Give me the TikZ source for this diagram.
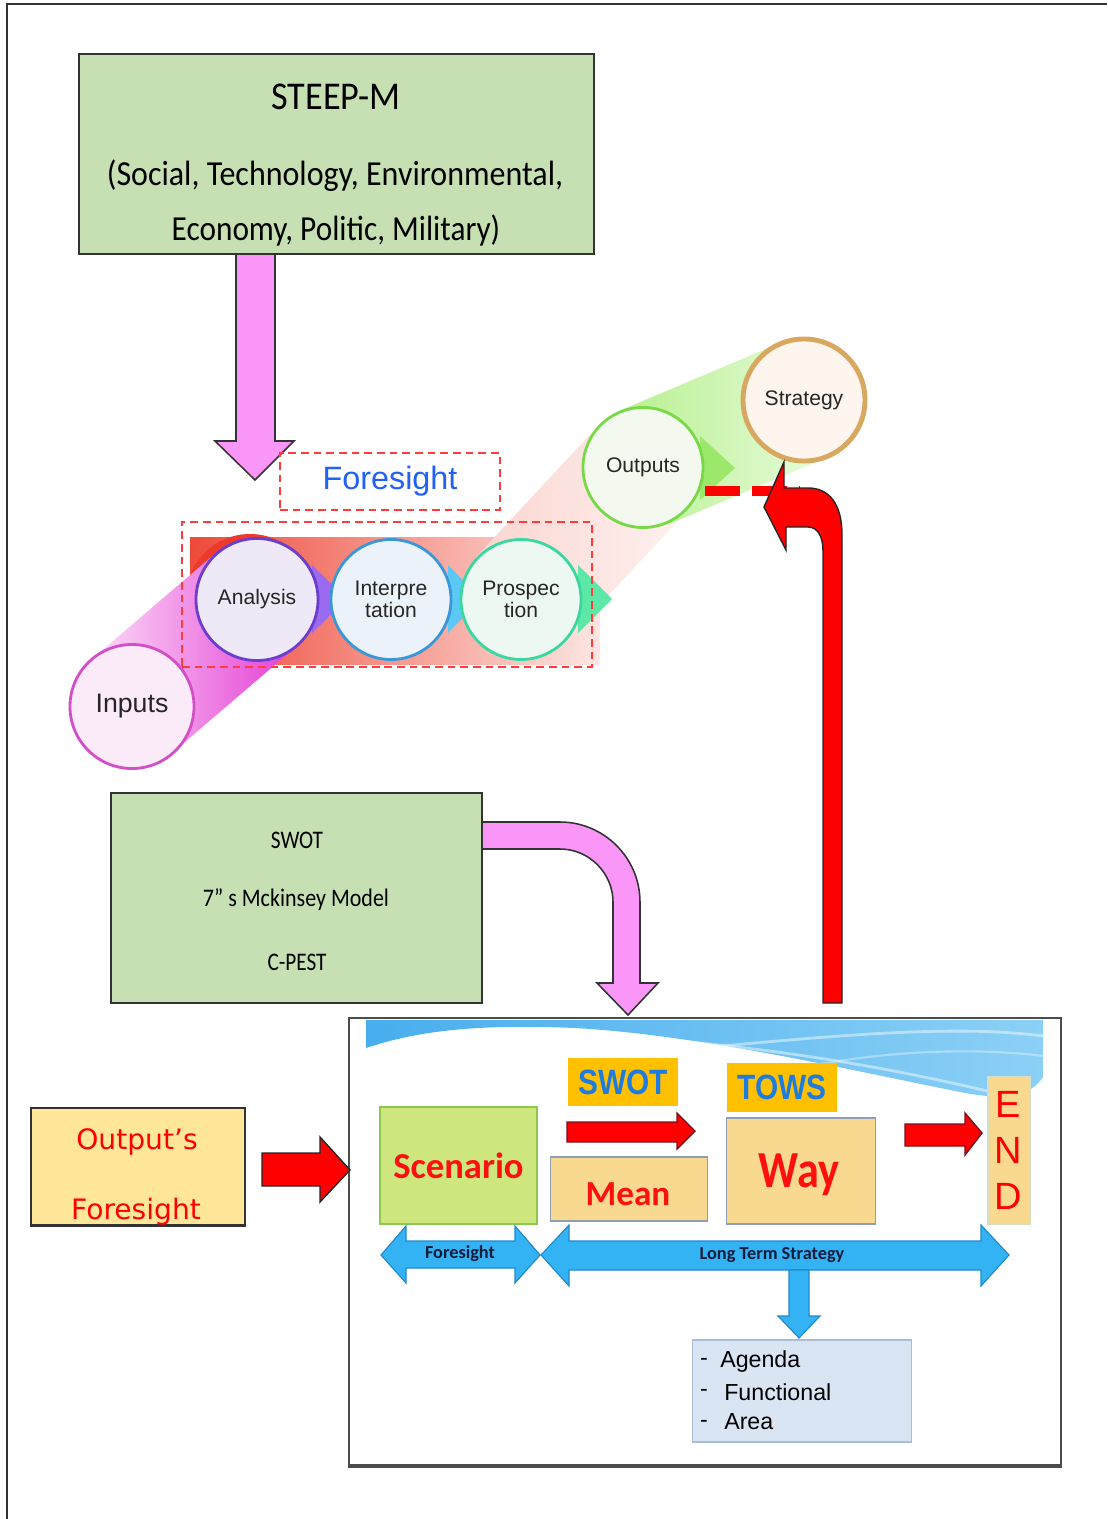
\documentclass[tikz,border=0pt]{standalone}
\usepackage{fontspec}
\usepackage{graphicx}
\setmainfont{Liberation Sans}
\newfontfamily\calfont{Carlito}
\newfontfamily\dvfont{DejaVu Sans}
\newcommand{\myfs}[1]{\fontsize{#1}{#1}\selectfont}
\newcommand{\nar}[2]{\scalebox{#1}[1]{#2}}
\definecolor{frame}{HTML}{333333}
\definecolor{boxgreen}{HTML}{C6E0B4}
\definecolor{pinkarr}{HTML}{FA96F8}
\definecolor{dashred}{HTML}{FF3B3B}
\definecolor{foreblue}{HTML}{2262F0}
\definecolor{outyellow}{HTML}{FFE699}
\definecolor{scengreen}{HTML}{CDE67E}
\definecolor{scenborder}{HTML}{8CC850}
\definecolor{goldlab}{HTML}{FFC000}
\definecolor{labblue}{HTML}{1E7BE0}
\definecolor{tanfill}{HTML}{F9D98F}
\definecolor{tanborder}{HTML}{8E9FB5}
\definecolor{arrblue}{HTML}{33B3F4}
\definecolor{arrblueb}{HTML}{1E88D0}
\definecolor{agendaf}{HTML}{DAE5F4}
\definecolor{agendab}{HTML}{A9BDD9}
\definecolor{txtred}{HTML}{FF1010}
\definecolor{inpB}{HTML}{D24FC8}
\definecolor{inpF}{HTML}{FBEAF8}
\definecolor{anaB}{HTML}{6A3FD0}
\definecolor{anaF}{HTML}{EFE8F7}
\definecolor{intB}{HTML}{3A98D8}
\definecolor{intF}{HTML}{ECF2FA}
\definecolor{proB}{HTML}{3AD8A0}
\definecolor{proF}{HTML}{ECF8F1}
\definecolor{outB}{HTML}{78D848}
\definecolor{outF}{HTML}{F3F9EE}
\definecolor{strB}{HTML}{D8A860}
\definecolor{strF}{HTML}{FDF5EE}
\definecolor{bandRedL}{HTML}{EE4A3A}
\definecolor{bandRedR}{HTML}{FDE6E3}
\definecolor{crescent}{HTML}{EE3A2A}
\definecolor{bandPinkL}{HTML}{FCDCF8}
\definecolor{bandPinkR}{HTML}{E43CD4}
\definecolor{bandFaintL}{HTML}{FBD5D0}
\definecolor{bandFaintR}{HTML}{FEF2F0}
\definecolor{bandGreenL}{HTML}{B8F090}
\definecolor{bandGreenR}{HTML}{E8FCDC}
\definecolor{chevAna}{HTML}{9A6AF0}
\definecolor{chevInt}{HTML}{5CC8F5}
\definecolor{chevPro}{HTML}{5DE8A8}
\definecolor{chevOut}{HTML}{9BE86A}
\definecolor{waveL}{HTML}{48AEEE}
\definecolor{waveR}{HTML}{8CD0F6}
\definecolor{darkred}{HTML}{781020}
\definecolor{endB}{HTML}{D6DEC4}
\definecolor{navytxt}{HTML}{141C3C}
\tikzset{
  gbox/.style={draw=frame, line width=1.6pt, fill=boxgreen, inner sep=0pt},
  pinkblock/.style={fill=pinkarr, draw=frame, line width=1.1pt, line join=miter},
  redblock/.style={fill=red, draw=black!85, line width=1pt, line join=miter},
  blueblock/.style={fill=arrblue, draw=arrblueb, line width=0.8pt, line join=miter},
  dashbox/.style={draw=dashred, line width=1.8pt, dash pattern=on 5.5pt off 3.5pt, inner sep=0pt},
  circ/.style={circle, inner sep=0pt, line width=2pt, text=black!85, font=\fontsize{15}{15.6}\selectfont, align=center},
  txt/.style={inner sep=0pt},
  tanbox/.style={fill=tanfill, draw=tanborder, line width=1pt, inner sep=0pt},
  goldbox/.style={fill=goldlab, inner sep=0pt, text=labblue, font=\bfseries\myfs{25}},
}
\begin{document}
\begin{tikzpicture}[x=0.025cm, y=-0.025cm]
\useasboundingbox (0,0) rectangle (1107,1519);
\fill[white] (0,0) rectangle (1107,1519);
\draw[frame, line width=1.5pt] (7,1519) -- (7,4) -- (1107,4);

% ---------- STEEP-M box
\node[gbox, minimum width=12.875cm, minimum height=5cm] (steep) at (336.5,154) {};
\node[txt, font=\calfont\myfs{28}] (steepT) at (336,97) {\nar{0.92}{STEEP-M}};
\node[txt, font=\calfont\myfs{25}] (steepA) at (335,176) {\nar{0.91}{(Social, Technology, Environmental,}};
\node[txt, font=\calfont\myfs{25}] (steepB) at (336,230) {\nar{0.89}{Economy, Politic, Military)}};

% pink down arrow
\draw[pinkblock] (236,254) -- (236,441) -- (215,441) -- (255,480) -- (294,441) -- (275,441) -- (275,254) -- cycle;

% ---------- ribbons
\shade[left color=bandRedL, right color=bandRedR] (190,537) rectangle (600,664);
\fill[crescent] (250,598) circle (64);
\shade[left color=bandPinkL, right color=bandPinkR] (92,659) -- (217,552) -- (297,646) -- (172,753) -- cycle;
\shade[left color=bandFaintL, right color=bandFaintR] (476,557) -- (598,426) -- (688,510) -- (566,641) -- cycle;
\shade[left color=bandGreenL, right color=bandGreenR] (619,411) -- (780,343) -- (828,457) -- (667,525) -- cycle;
% chevron tips
\fill[chevAna] (312,565) -- (347,599) -- (312,633) -- cycle;
\fill[chevInt] (448,565) -- (481,599) -- (448,633) -- cycle;
\fill[chevPro] (578,565) -- (612,599) -- (578,633) -- cycle;
\fill[chevOut] (700,436) -- (735,468) -- (700,500) -- cycle;

% ---------- circles
\node[circ, minimum size=3.1cm, draw=inpB, fill=inpF, font=\myfs{19}] (inputs) at (132,706.5) {Inputs};
\node[circ, minimum size=3.05cm, draw=anaB, fill=anaF] (analysis) at (257,599.5) {Analysis};
\node[circ, minimum size=3cm, draw=intB, fill=intF] (interp) at (391,599.5) {Interpre\\tation};
\node[circ, minimum size=3cm, draw=proB, fill=proF] (prosp) at (521,599.5) {Prospec\\tion};
\node[circ, minimum size=3cm, draw=outB, fill=outF] (outputs) at (643,467.5) {Outputs};
\node[circ, minimum size=3.05cm, draw=strB, fill=strF, line width=3.5pt] (strategy) at (804,400) {Strategy};

% ---------- dashed boxes
\node[dashbox, minimum width=5.5cm, minimum height=1.425cm, text=foreblue, font=\myfs{23}] (foreBox) at (390,481.5) {Foresight};
\node[dashbox, minimum width=10.25cm, minimum height=3.625cm] (foreArea) at (387,594.5) {};

% ---------- red dashed link and big red arrow
\coordinate (dashS) at (705,491);
\coordinate (dashE) at (800,491);
\draw[red, line width=7pt, dash pattern=on 24.8pt off 8.5pt] (dashS) -- (dashE);
\draw[redblock] (823,1003) -- (823,551) .. controls (823,537) and (818,527) .. (808,527) -- (786,527) -- (786,550) -- (764,507) -- (784,462) -- (784,488) -- (808,488) .. controls (830,488) and (842,505) .. (842,535) -- (842,1003) -- cycle;

% ---------- SWOT / McKinsey box
\node[gbox, minimum width=9.275cm, minimum height=5.25cm] (tools) at (296.5,898) {};
\node[txt, font=\calfont\myfs{18}] (toolsA) at (297,840) {\nar{0.84}{SWOT}};
\node[txt, font=\calfont\myfs{18}] (toolsB) at (296,900) {\nar{0.87}{7” s Mckinsey Model}};
\node[txt, font=\calfont\myfs{18}] (toolsC) at (297,962) {\nar{0.84}{C-PEST}};

% ---------- bottom panel
\node[draw=black!70, line width=1.4pt, fill=white, minimum width=17.8cm, minimum height=11.175cm, inner sep=0pt] (panel) at (705,1241.5) {};
\draw[black!70, line width=2.4pt] (panel.south west) -- (panel.south east);

% pink curved arrow into panel
\draw[pinkblock] (482,822) -- (560,822) .. controls (604,822) and (640,858) .. (640,902) -- (640,983) -- (658,983) -- (628,1015) -- (597,983) -- (613,983) -- (613,902) .. controls (613,873) and (589,849) .. (560,849) -- (482,849) -- cycle;

% wave
\shade[left color=waveL, right color=waveR] (366,1020) -- (1043,1020) -- (1043,1077) .. controls (1030,1098) and (1000,1100) .. (960,1092) .. controls (850,1070) and (700,1035) .. (575,1028) .. controls (480,1024) and (420,1030) .. (366,1048) -- cycle;
\draw[white, opacity=0.45, line width=2pt] (560,1034) .. controls (750,1040) and (900,1070) .. (1000,1094);
\draw[white, opacity=0.45, line width=2pt] (700,1048) .. controls (850,1034) and (960,1025) .. (1043,1036);
\draw[white, opacity=0.35, line width=1.5pt] (820,1064) .. controls (900,1050) and (980,1048) .. (1043,1056);

% Output's Foresight
\node[fill=outyellow, draw=frame, line width=1.2pt, minimum width=5.35cm, minimum height=2.925cm, inner sep=0pt] (outf) at (138,1166.5) {};
\node[txt, text=red, font=\dvfont\myfs{20}] (outfA) at (137,1142) {Output’s};
\begin{scope}
\clip (31,1108) rectangle (245,1224);
\node[txt, text=red, font=\dvfont\myfs{20}] (outfB) at (136,1212) {Foresight};
\end{scope}
\draw[frame, line width=1.2pt] (outf.south west) -- (outf.south east);
\draw[redblock] (262,1153) -- (320,1153) -- (320,1137) -- (350,1170) -- (320,1202) -- (320,1186) -- (262,1186) -- cycle;

% Scenario
\node[fill=scengreen, draw=scenborder, line width=1.2pt, minimum width=3.925cm, minimum height=2.925cm, inner sep=0pt, text=txtred, font=\calfont\bfseries\myfs{26}] (scen) at (458.5,1165.5) {Scenario};

% SWOT label, arrow, Mean
\node[goldbox, minimum width=2.75cm, minimum height=1.2cm] (swotL) at (623,1082) {\nar{0.85}{SWOT}};
\draw[redblock, draw=darkred] (567,1122) -- (677,1122) -- (677,1113) -- (695,1131) -- (677,1149) -- (677,1142) -- (567,1142) -- cycle;
\node[tanbox, minimum width=3.925cm, minimum height=1.6cm] (mean) at (629,1189) {};
\node[txt, text=txtred, font=\calfont\bfseries\myfs{25}] (meanT) at (628,1194) {Mean};

% TOWS label, Way
\node[goldbox, minimum width=2.75cm, minimum height=1.225cm] (towsL) at (782,1087.5) {\nar{0.85}{TOWS}};
\node[tanbox, minimum width=3.725cm, minimum height=2.65cm] (way) at (801,1171) {};
\node[txt, text=txtred, font=\calfont\bfseries\myfs{37}] (wayT) at (799,1175) {\nar{0.85}{Way}};
\draw[redblock, draw=darkred] (905,1124) -- (965,1124) -- (965,1113) -- (982,1133) -- (965,1155) -- (965,1146) -- (905,1146) -- cycle;

% END
\node[fill=tanfill, draw=endB, line width=0.8pt, minimum width=1.05cm, minimum height=3.675cm, inner sep=0pt] (endbox) at (1009,1150.5) {};
\node[txt, text=red, font=\myfs{27}] (endE) at (1008,1104) {E};
\node[txt, text=red, font=\myfs{27}] (endN) at (1008,1150) {N};
\node[txt, text=red, font=\myfs{27}] (endD) at (1008,1196) {D};

% blue double arrows
\draw[blueblock] (381,1255) -- (406,1226) -- (406,1241) -- (515,1241) -- (515,1226) -- (540,1255) -- (515,1283) -- (515,1268) -- (406,1268) -- (406,1283) -- cycle;
\node[txt, text=navytxt, font=\calfont\bfseries\myfs{13}] (foreArrT) at (460,1254) {Foresight};
\draw[blueblock] (541,1255) -- (569,1225) -- (569,1241) -- (981,1241) -- (981,1225) -- (1009,1255) -- (981,1286) -- (981,1270) -- (569,1270) -- (569,1286) -- cycle;
\node[txt, text=navytxt, font=\calfont\bfseries\myfs{13}] (ltsT) at (772,1255) {Long Term Strategy};
\draw[blueblock] (789,1270) -- (789,1316) -- (778,1316) -- (799,1338) -- (820,1316) -- (809,1316) -- (809,1270) -- cycle;

% Agenda box
\node[fill=agendaf, draw=agendab, line width=1pt, minimum width=5.475cm, minimum height=2.55cm, inner sep=0pt] (agenda) at (802,1391) {};
\node[txt, font=\myfs{16.5}] (dash1) at (704,1362) {-};
\node[txt, font=\myfs{16.5}] (dash2) at (704,1393) {-};
\node[txt, font=\myfs{16.5}] (dash3) at (704,1424) {-};
\node[txt, font=\myfs{16.5}, anchor=west] (agA) at (720,1361) {Agenda};
\node[txt, font=\myfs{16.5}, anchor=west] (agB) at (724,1392) {Functional};
\node[txt, font=\myfs{16.5}, anchor=west] (agC) at (724,1422) {Area};
\end{tikzpicture}
\end{document}
